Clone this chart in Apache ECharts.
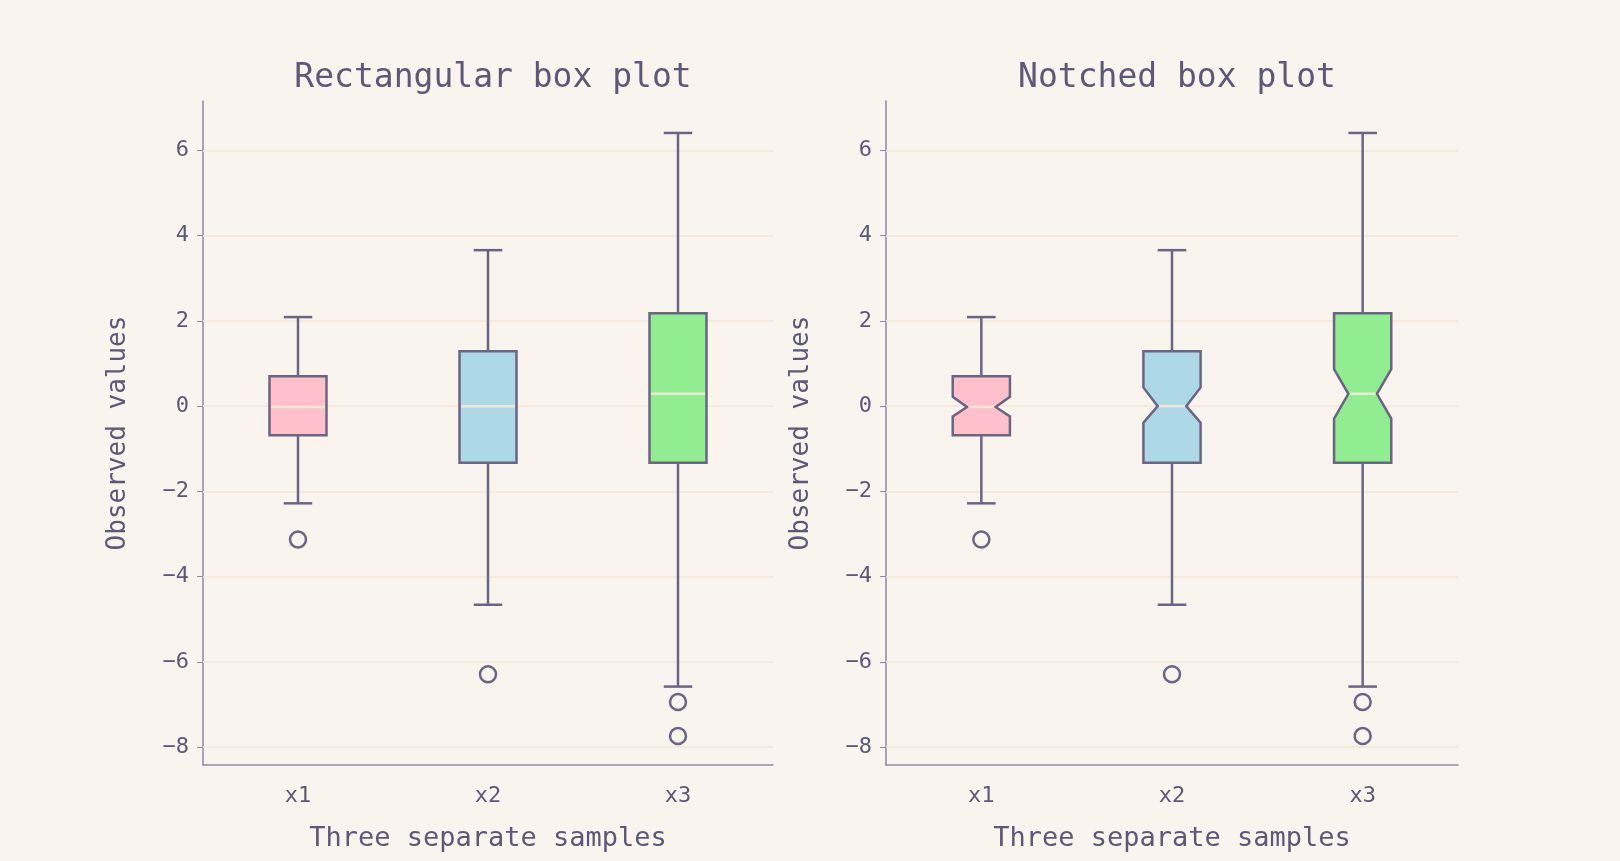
<!DOCTYPE html>
<html><head><meta charset="utf-8">
<script src="https://cdn.jsdelivr.net/npm/echarts@6/dist/echarts.min.js"></script>
<style>html,body{margin:0;background:#faf4ee}#c{width:1620px;height:861px}</style>
</head><body><div id="c"></div>
<script>
// box plot stats
const categories = ['x1', 'x2', 'x3'];
const whiskerLow = [-2.28, -4.66, -6.58];
const q1 = [-0.68, -1.33, -1.33];
const median = [-0.02, 0.0, 0.29];
const q3 = [0.70, 1.29, 2.18];
const whiskerHigh = [2.09, 3.66, 6.41];
const notchLow = [-0.24, -0.39, -0.29];
const notchHigh = [0.22, 0.44, 0.87];
const outliers = [[0, -3.13], [1, -6.29], [2, -6.94], [2, -7.74]];
const boxColors = ['#ffc0cb', '#add8e6', '#90ee90'];
const yTicks = [-8, -6, -4, -2, 0, 2, 4, 6];

const ink = '#6b6585';
const txt = '#5e5878';
const font = 'DejaVu Sans Mono';

function boxData() {
  return categories.map((c, i) => [i, whiskerLow[i], q1[i], median[i], q3[i], whiskerHigh[i], notchLow[i], notchHigh[i]]);
}

function makeRender(notched) {
  return function (params, api) {
    const i = api.value(0);
    const c = api.coord([i, 0])[0];
    const band = api.size([1, 0])[0];
    const hw = band * 0.15;
    const y = v => api.coord([i, v])[1];
    const yl = y(api.value(1)), yq1 = y(api.value(2)), ym = y(api.value(3)),
      yq3 = y(api.value(4)), yh = y(api.value(5)), ynl = y(api.value(6)), ynh = y(api.value(7));
    const line = {stroke: ink, lineWidth: 2.5};
    const children = [
      {type: 'line', shape: {x1: c, y1: yh, x2: c, y2: yq3}, style: line},
      {type: 'line', shape: {x1: c, y1: yq1, x2: c, y2: yl}, style: line},
      {type: 'line', shape: {x1: c - hw / 2, y1: yh, x2: c + hw / 2, y2: yh}, style: line},
      {type: 'line', shape: {x1: c - hw / 2, y1: yl, x2: c + hw / 2, y2: yl}, style: line}
    ];
    let pts, mx;
    if (notched) {
      const iw = hw / 2;
      pts = [[c - hw, yq3], [c + hw, yq3], [c + hw, ynh], [c + iw, ym], [c + hw, ynl], [c + hw, yq1],
        [c - hw, yq1], [c - hw, ynl], [c - iw, ym], [c - hw, ynh]];
      mx = iw;
    } else {
      pts = [[c - hw, yq3], [c + hw, yq3], [c + hw, yq1], [c - hw, yq1]];
      mx = hw;
    }
    children.push({type: 'polygon', shape: {points: pts}, style: {fill: boxColors[i], stroke: ink, lineWidth: 2.5}});
    children.push({type: 'line', shape: {x1: c - mx + 1.5, y1: ym, x2: c + mx - 1.5, y2: ym}, style: {stroke: '#f3e6d4', lineWidth: 2.5}});
    return {type: 'group', children: children};
  };
}

const grids = [
  {left: 203, right: 1620 - 773, top: 101, bottom: 96},
  {left: 886, right: 1620 - 1458, top: 101, bottom: 96}
];
const titles = ['Rectangular box plot', 'Notched box plot'];

const option = {
  backgroundColor: '#faf4ee',
  animation: false,
  title: titles.map((t, k) => ({
    text: t, left: (grids[k].left + (1620 - grids[k].right)) / 2, top: 57, textAlign: 'center',
    textStyle: {fontFamily: font, fontSize: 33, fontWeight: 'normal', color: txt}
  })),
  grid: grids,
  xAxis: grids.map((g, k) => ({
    type: 'category', gridIndex: k, data: categories,
    name: 'Three separate samples', nameLocation: 'middle', nameGap: 60,
    nameTextStyle: {fontFamily: font, fontSize: 27, color: txt},
    axisLine: {onZero: false, lineStyle: {color: '#8e8aa2', width: 1.5}},
    axisTick: {alignWithLabel: true, length: 6, lineStyle: {color: '#8e8aa2'}},
    axisLabel: {fontFamily: font, fontSize: 22, color: txt, margin: 20}
  })),
  yAxis: grids.map((g, k) => ({
    type: 'value', gridIndex: k, min: -8.42, max: 7.16,
    name: 'Observed values', nameLocation: 'middle', nameGap: 72,
    nameTextStyle: {fontFamily: font, fontSize: 26, color: txt},
    axisLine: {show: true, lineStyle: {color: '#8e8aa2', width: 1.5}},
    axisTick: {show: true, length: 6, customValues: yTicks, lineStyle: {color: '#8e8aa2'}},
    axisLabel: {fontFamily: font, fontSize: 22, color: txt, margin: 14, customValues: yTicks,
      formatter: v => v < 0 ? '\u2212' + (-v) : String(v)},
    splitLine: {show: false}
  })),
  series: []
};

[0, 1].forEach(k => {
  option.series.push({
    type: 'custom', xAxisIndex: k, yAxisIndex: k, renderItem: makeRender(k === 1),
    data: boxData(), encode: {x: 0, y: [1, 5]}, z: 3,
    markLine: {silent: true, symbol: 'none', label: {show: false},
      lineStyle: {color: '#f3e6d8', type: 'solid', width: 1.5},
      data: yTicks.map(v => ({yAxis: v})), z: 1}
  });
  option.series.push({
    type: 'scatter', xAxisIndex: k, yAxisIndex: k, data: outliers,
    symbol: 'circle', symbolSize: 16, z: 4,
    itemStyle: {color: 'rgba(0,0,0,0)', borderColor: ink, borderWidth: 2.5, opacity: 1}
  });
});

echarts.init(document.getElementById('c')).setOption(option);
</script></body></html>
